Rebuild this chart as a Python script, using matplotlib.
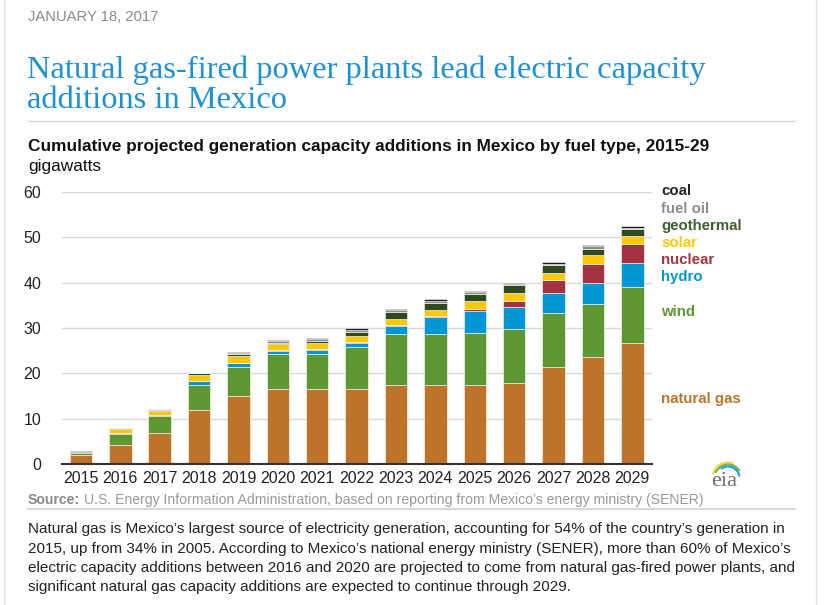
import matplotlib
matplotlib.use("Agg")
import matplotlib.pyplot as plt
from matplotlib.lines import Line2D
from matplotlib.patches import Arc
import numpy as np

# cumulative capacity additions, GW
years = ['2015', '2016', '2017', '2018', '2019', '2020', '2021', '2022',
         '2023', '2024', '2025', '2026', '2027', '2028', '2029']
natural_gas = [2.0, 4.2, 6.9, 11.9, 14.9, 16.6, 16.6, 16.6, 17.4, 17.4, 17.4, 17.9, 21.3, 23.5, 26.8]
wind = [0.4, 2.5, 3.6, 5.5, 6.6, 7.7, 7.7, 9.1, 11.3, 11.3, 11.6, 11.9, 11.9, 11.9, 12.2]
hydro = [0.0, 0.0, 0.1, 0.9, 0.7, 0.6, 0.8, 1.0, 1.7, 3.7, 4.8, 4.8, 4.6, 4.6, 5.4]
nuclear = [0.0, 0.15, 0.2, 0.1, 0.15, 0.2, 0.3, 0.15, 0.3, 0.3, 0.3, 1.3, 2.8, 4.1, 4.1]
solar = [0.0, 0.9, 1.0, 1.3, 1.4, 1.3, 1.3, 1.4, 1.3, 1.3, 1.8, 1.9, 1.6, 1.9, 1.7]
geothermal = [0.2, 0.2, 0.1, 0.3, 0.6, 0.4, 0.4, 0.9, 1.6, 1.5, 1.7, 1.6, 1.6, 1.5, 1.6]
fuel_oil = [0.1, 0.05, 0.3, 0.1, 0.2, 0.3, 0.4, 0.5, 0.4, 0.4, 0.4, 0.3, 0.4, 0.5, 0.3]
coal = [0.1, 0.05, 0.0, 0.0, 0.2, 0.3, 0.4, 0.3, 0.3, 0.4, 0.2, 0.3, 0.3, 0.4, 0.4]

series = [
    ('natural gas', natural_gas, '#bd732a', '#bd732a', 399),
    ('wind', wind, '#5e9732', '#5e9732', 312),
    ('hydro', hydro, '#0096d6', '#0096d6', 277),
    ('nuclear', nuclear, '#a33340', '#a33340', 260),
    ('solar', solar, '#ffc800', '#ffc800', 243),
    ('geothermal', geothermal, '#2f4a1c', '#3d5e2b', 226),
    ('fuel oil', fuel_oil, '#8c8c8c', '#8c8c8c', 209),
    ('coal', coal, '#1a1a1a', '#222222', 191),
]

W, H = 831, 605
fig = plt.figure(figsize=(W / 100, H / 100), dpi=100)
fig.patch.set_facecolor('white')

def fx(px):
    return px / W

def fy(py):
    return 1 - py / H

sans = 'Liberation Sans'
serif = 'Liberation Serif'

# page borders and rules
fig.add_artist(Line2D([fx(4), fx(4)], [0, 1], color='#e3e3e3', lw=1))
fig.add_artist(Line2D([fx(816), fx(816)], [0, 1], color='#e3e3e3', lw=1))
fig.add_artist(Line2D([fx(28), fx(795)], [fy(121), fy(121)], color='#d9d9d9', lw=1))
fig.add_artist(Line2D([fx(28), fx(795)], [fy(509), fy(509)], color='#d9d9d9', lw=1.5))

# header
fig.text(fx(28), fy(17), 'JANUARY 18, 2017', fontsize=10.6, color='#8a8a8a',
         family=sans, va='center')
fig.text(fx(27), fy(70), 'Natural gas-fired power plants lead electric capacity',
         fontsize=23.4, color='#1e90d6', family=serif, va='center')
fig.text(fx(27), fy(100), 'additions in Mexico',
         fontsize=23.4, color='#1e90d6', family=serif, va='center')
fig.text(fx(28), fy(147), 'Cumulative projected generation capacity additions in Mexico by fuel type, 2015-29',
         fontsize=12.4, color='#111111', family=sans, weight='bold', va='center')
fig.text(fx(28), fy(167), 'gigawatts', fontsize=12.4, color='#111111', family=sans, va='center')

# chart
ax = fig.add_axes([fx(62), fy(464), fx(652) - fx(62), fy(192) - fy(464)])
x = np.arange(len(years))
bottom = np.zeros(len(years))
for name, vals, col, tcol, ty in series:
    ax.bar(x, vals, width=0.57, bottom=bottom, color=col, edgecolor='white',
           linewidth=0.4, zorder=3, clip_on=False)
    bottom = bottom + np.array(vals)
    fig.text(fx(661), fy(ty), name, fontsize=10.8, color=tcol, family=sans,
             weight='bold', va='center')

ax.set_xlim(-0.48, 14.5)
ax.set_ylim(0, 60)
ax.set_yticks([0, 10, 20, 30, 40, 50, 60])
ax.set_xticks(x)
ax.set_xticklabels(years)
ax.grid(axis='y', color='#d9d9d9', lw=1, zorder=0)
for s in ['top', 'right', 'left']:
    ax.spines[s].set_visible(False)
ax.spines['bottom'].set_color('#333333')
ax.spines['bottom'].set_linewidth(1.5)
ax.spines['bottom'].set_zorder(4)
ax.tick_params(axis='both', length=0, labelsize=11.5, colors='#222222')
ax.tick_params(axis='y', pad=15)
ax.tick_params(axis='x', pad=5)
for lab in ax.get_xticklabels() + ax.get_yticklabels():
    lab.set_family(sans)

# eia logo
fig.text(fx(724), fy(481), 'eia', fontsize=16, color='#6e6e6e', family=serif,
         ha='center', va='center')
for r, c, t1, t2 in [(15.5, '#ffd54a', 75, 160), (13.5, '#7cb342', 40, 150), (11.5, '#29a3dd', 10, 120)]:
    fig.add_artist(Arc((fx(728), fy(478)), 2 * r / W, 2 * r / H, theta1=t1, theta2=t2,
                       color=c, lw=1.6, transform=fig.transFigure))

# source
fig.text(fx(28), fy(500), 'Source:', fontsize=10.05, color='#8a8a8a', family=sans,
         weight='bold', va='center')
fig.text(fx(84), fy(500), 'U.S. Energy Information Administration, based on reporting from Mexico\u2019s energy ministry (SENER)',
         fontsize=10.05, color='#9a9a9a', family=sans, va='center')

# paragraph
para = [
    'Natural gas is Mexico\u2019s largest source of electricity generation, accounting for 54% of the country\u2019s generation in',
    '2015, up from 34% in 2005. According to Mexico\u2019s national energy ministry (SENER), more than 60% of Mexico\u2019s',
    'electric capacity additions between 2016 and 2020 are projected to come from natural gas-fired power plants, and',
    'significant natural gas capacity additions are expected to continue through 2029.',
]
for i, line in enumerate(para):
    fig.text(fx(28), fy(529 + 19.5 * i), line, fontsize=11.0, color='#222222',
             family=sans, va='center')

fig.savefig('out.png', dpi=100)
